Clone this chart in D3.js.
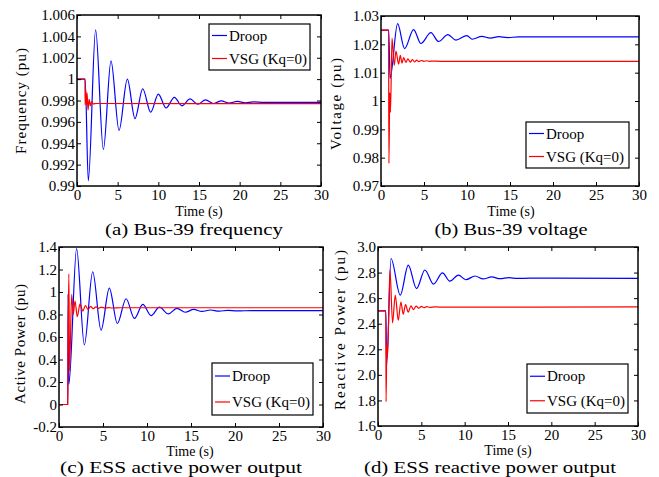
<!DOCTYPE html>
<html>
<head>
<meta charset="utf-8">
<script src="https://cdn.jsdelivr.net/npm/d3@7"></script>
<style>
  body { margin: 0; background: #fff; }
  svg text { font-family: "Liberation Serif", "DejaVu Serif", serif; fill: #000; }
</style>
</head>
<body>
<div id="chart"></div>
<script>
// time axis shared by all four panels
var timeTicks = [0, 5, 10, 15, 20, 25, 30];
var seriesNames = ["Droop", "VSG (Kq=0)"];

// (a) bus-39 frequency, [t, pu]
var freqTicks = [0.99, 0.992, 0.994, 0.996, 0.998, 1, 1.002, 1.004, 1.006];
var freqDroop = [[0,1],[1.0,1],[1.39,0.9905],[2.29,1.0046],[3.24,0.9934],[4.18,1.0017],[5.17,0.9952],
  [6.19,1.0000],[7.13,0.9963],[8.08,0.9991],[9.06,0.9969],[10.0,0.9986],[10.95,0.9973],[11.97,0.9983],
  [12.9,0.9975],[13.9,0.99815],[14.85,0.99765],[15.8,0.99805],[16.8,0.99772],[17.75,0.99797],
  [18.7,0.99776],[19.7,0.99792],[20.7,0.99779],[21.7,0.99787],[23,0.99783],[30,0.99783]];
var freqVsg = [[0,1],[0.98,1],[1.0,0.9976],[1.08,0.9989],[1.16,0.9976],[1.24,0.9987],[1.35,0.9971],
  [1.5,0.9981],[1.65,0.9975],[1.8,0.9979],[2.0,0.99768],[2.4,0.99772],[30,0.9977]];

// (b) bus-39 voltage
var voltTicks = [0.97, 0.98, 0.99, 1, 1.01, 1.02, 1.03];
var voltDroop = [[0,1.025],[0.9,1.025],[1.05,1.008],[1.93,1.0273],[2.74,1.0185],[3.79,1.0252],[4.64,1.0203],
  [5.8,1.0241],[6.69,1.021],[7.78,1.0234],[8.71,1.0215],[9.99,1.0231],[10.6,1.0218],[11.73,1.0228],
  [12.7,1.0222],[13.7,1.0227],[14.7,1.0224],[16,1.0226],[30,1.0226]];
var voltVsg = [[0,1.025],[0.88,1.025],[0.92,0.978],[1.02,1.003],[1.1,0.996],[1.28,1.0222],[1.54,1.0126],
  [1.74,1.0176],[2.05,1.013],[2.24,1.0161],[2.44,1.0134],[2.63,1.0153],[2.9,1.0136],[3.13,1.0149],
  [3.4,1.0137],[3.65,1.0146],[3.9,1.0138],[4.15,1.0144],[4.4,1.0139],[4.7,1.0143],[5.0,1.014],
  [5.3,1.0142],[5.6,1.014],[6,1.0141],[7,1.014],[30,1.014]];

// (c) ESS active power
var pTicks = [-0.2, 0, 0.2, 0.4, 0.6, 0.8, 1, 1.2, 1.4];
var pDroop = [[0,0],[1.0,0],[1.03,0.98],[1.12,0.18],[2.0,1.385],[2.88,0.53],[3.83,1.18],[4.78,0.66],
  [5.72,1.035],[6.63,0.72],[7.62,0.94],[8.57,0.765],[9.52,0.89],[10.47,0.79],[11.41,0.865],[12.43,0.805],
  [13.39,0.855],[14.35,0.82],[15.3,0.845],[16.25,0.827],[17.2,0.84],[18.2,0.83],[19.2,0.837],
  [20.2,0.832],[22,0.835],[30,0.835]];
var pVsg = [[0,0],[1.0,0],[1.03,0.48],[1.12,1.16],[1.2,0.3],[1.44,0.98],[1.62,0.8],[1.82,0.92],
  [2.08,0.78],[2.39,0.895],[2.7,0.83],[3.0,0.88],[3.3,0.845],[3.6,0.872],[3.9,0.852],[4.2,0.868],
  [4.5,0.855],[4.8,0.865],[5.2,0.857],[5.6,0.862],[6.0,0.858],[7,0.86],[30,0.86]];

// (d) ESS reactive power
var qTicks = [1.6, 1.8, 2.0, 2.2, 2.4, 2.6, 2.8, 3.0];
var qDroop = [[0,2.5],[0.9,2.5],[1.0,2.08],[1.5,2.91],[2.57,2.624],[3.49,2.859],[4.45,2.675],[5.41,2.82],
  [6.4,2.71],[7.44,2.798],[8.29,2.733],[9.28,2.78],[10.13,2.744],[11.2,2.773],[12.12,2.75],[13.12,2.766],
  [14.1,2.752],[15.1,2.76],[16.1,2.754],[17.5,2.756],[30,2.755]];
var qVsg = [[0,2.5],[0.9,2.5],[0.93,1.79],[1.02,2.23],[1.1,2.14],[1.38,2.82],[1.68,2.406],[1.99,2.624],
  [2.34,2.427],[2.64,2.57],[2.91,2.474],[3.18,2.55],[3.49,2.49],[3.8,2.54],[4.1,2.51],[4.4,2.538],
  [4.7,2.52],[5.0,2.535],[5.3,2.525],[5.6,2.533],[6.0,2.528],[6.5,2.532],[7,2.53],[30,2.531]];

var colors = ["#0000ff", "#ff0000"];
var trim = d => String(+d.toFixed(3));

const svg = d3.select("#chart").append("svg")
  .attr("width", 659).attr("height", 477);

var panels = [
  {id: "a", box: [77, 321, 15, 186], ticks: freqTicks, fmt: trim, series: [freqDroop, freqVsg],
   ytitle: "Frequency (pu)", ytx: 21, yty: 101, ytl: 106,
   tx: 199, ty: 216, cap: "(a) Bus-39 frequency", cx: 194, cy: 235, cl: 178,
   leg: [209, 24, 101, 46]},
  {id: "b", box: [381, 639, 16, 186], ticks: voltTicks, fmt: trim, series: [voltDroop, voltVsg],
   ytitle: "Voltage (pu)", ytx: 336, yty: 104, ytl: 92,
   tx: 511, ty: 216, cap: "(b) Bus-39 voltage", cx: 511, cy: 235, cl: 153,
   leg: [526, 122, 103, 46]},
  {id: "c", box: [59, 323, 247, 427], ticks: pTicks, fmt: trim, series: [pDroop, pVsg],
   ytitle: "Active Power (pu)", ytx: 20, yty: 344, ytl: 120,
   tx: 190, ty: 456, cap: "(c) ESS active power output", cx: 181, cy: 473, cl: 242,
   leg: [212, 363, 101, 52]},
  {id: "d", box: [378, 638, 247, 426], ticks: qTicks, fmt: d3.format(".1f"), series: [qDroop, qVsg],
   ytitle: "Reactive Power (pu)", ytx: 340, yty: 330, ytl: 160,
   tx: 508, ty: 455, cap: "(d) ESS reactive power output", cx: 490, cy: 473, cl: 252,
   leg: [527, 364, 101, 49]}
];

panels.forEach(function(p) {
  var [x0, x1, y0, y1] = p.box;
  var x = d3.scaleLinear().domain([0, 30]).range([x0, x1]);
  var y = d3.scaleLinear().domain(d3.extent(p.ticks)).range([y1, y0]);
  var g = svg.append("g");

  g.append("clipPath").attr("id", "clip" + p.id)
    .append("rect").attr("x", x0).attr("y", y0).attr("width", x1 - x0).attr("height", y1 - y0);

  // curves
  var line = d3.line().x(d => x(d[0])).y(d => y(d[1])).curve(d3.curveMonotoneX);
  p.series.forEach(function(s, i) {
    g.append("path").datum(s)
      .attr("clip-path", "url(#clip" + p.id + ")")
      .attr("fill", "none").attr("stroke", colors[i]).attr("stroke-width", 1.2)
      .attr("d", line);
  });

  // axes with inward ticks on all four sides
  g.append("g").attr("transform", `translate(0,${y1})`)
    .call(d3.axisBottom(x).tickValues(timeTicks).tickSizeInner(-4).tickSizeOuter(0).tickPadding(3));
  g.append("g").attr("transform", `translate(0,${y0})`)
    .call(d3.axisTop(x).tickValues(timeTicks).tickSizeInner(-4).tickSizeOuter(0).tickFormat(""));
  g.append("g").attr("transform", `translate(${x0},0)`)
    .call(d3.axisLeft(y).tickValues(p.ticks).tickFormat(p.fmt).tickSizeInner(-4).tickSizeOuter(0).tickPadding(2));
  g.append("g").attr("transform", `translate(${x1},0)`)
    .call(d3.axisRight(y).tickValues(p.ticks).tickSizeInner(-4).tickSizeOuter(0).tickFormat(""));
  g.selectAll(".domain").remove();
  g.selectAll(".tick line").attr("stroke", "#000").attr("stroke-width", 1);
  g.selectAll(".tick text").attr("font-size", 15).attr("fill", "#000");

  g.append("rect").attr("x", x0).attr("y", y0).attr("width", x1 - x0).attr("height", y1 - y0)
    .attr("fill", "none").attr("stroke", "#000").attr("stroke-width", 1.5);

  // labels
  g.append("text").attr("transform", `translate(${p.ytx},${p.yty}) rotate(-90)`)
    .attr("text-anchor", "middle").attr("dominant-baseline", "central")
    .attr("font-size", 15).attr("textLength", p.ytl).attr("lengthAdjust", "spacing")
    .text(p.ytitle);
  g.append("text").attr("x", p.tx).attr("y", p.ty).attr("text-anchor", "middle")
    .attr("font-size", 14).text("Time (s)");
  g.append("text").attr("x", p.cx).attr("y", p.cy).attr("text-anchor", "middle")
    .attr("font-size", 17).attr("textLength", p.cl).attr("lengthAdjust", "spacingAndGlyphs")
    .text(p.cap);

  // legend
  var [lx, ly, lw, lh] = p.leg;
  var lg = g.append("g").attr("transform", `translate(${lx},${ly})`);
  lg.append("rect").attr("width", lw).attr("height", lh)
    .attr("fill", "#fff").attr("stroke", "#000").attr("stroke-width", 1.2);
  seriesNames.forEach(function(name, i) {
    var yy = lh * (0.25 + 0.5 * i);
    lg.append("line").attr("x1", 3).attr("x2", 18).attr("y1", yy).attr("y2", yy)
      .attr("stroke", colors[i]).attr("stroke-width", 1.2);
    lg.append("text").attr("x", 20).attr("y", yy).attr("dominant-baseline", "central")
      .attr("font-size", 15).text(name);
  });
});
</script>
</body>
</html>
